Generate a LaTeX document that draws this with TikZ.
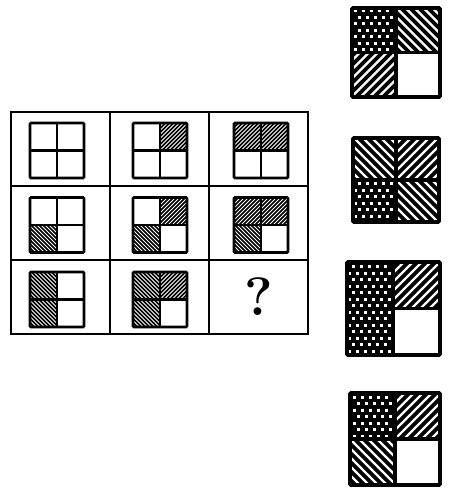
\documentclass[tikz,border=0pt]{standalone}
\usepackage{tikz}
\usetikzlibrary{calc}
\tikzset{cell/.style={draw, line width=1.5pt, minimum width=99pt, minimum height=74pt, inner sep=0pt}}
\tikzset{box/.style={inner sep=0pt, outer sep=0pt}}

% quadrant fillings: corner, centre
\newcommand{\qnofill}[2]{}
\newcommand{\qhne}[2]{\begin{scope}
    \clip (#1) rectangle (#2); \fill (#1) rectangle (#2);
    \foreach \k in {-15,...,15} \draw [white, line width=0.8pt] ($(#2)+(\k*4-40,40)$) -- ++(80,-80);
\end{scope}}
\newcommand{\qhnw}[2]{\begin{scope}
    \clip (#1) rectangle (#2); \fill (#1) rectangle (#2);
    \foreach \k in {-15,...,15} \draw [white, line width=0.8pt] ($(#2)+(\k*4-40,-40)$) -- ++(80,80);
\end{scope}}
\newcommand{\qbne}[2]{\begin{scope}
    \clip (#1) rectangle (#2); \fill (#1) rectangle (#2);
    \foreach \k in {-12,...,12} \draw [white, line width=2.2pt] ($(#2)+(\k*9-60,60)$) -- ++(120,-120);
\end{scope}}
\newcommand{\qbnw}[2]{\begin{scope}
    \clip (#1) rectangle (#2); \fill (#1) rectangle (#2);
    \foreach \k in {-12,...,12} \draw [white, line width=2.2pt] ($(#2)+(\k*9-60,-60)$) -- ++(120,120);
\end{scope}}
\newcommand{\qdots}[2]{\begin{scope}
    \clip (#1) rectangle (#2); \fill (#1) rectangle (#2);
    \foreach \i in {-7,...,7} \foreach \j in {-8,...,8}
        \fill [white] ($(#2)+({\i*8+4*mod(abs(\j),2)+2},{\j*6.5+2})$) rectangle ++(3,3);
\end{scope}}

% name, centre, width, height, frame width, TL, TR, BL, BR
\newcommand{\quads}[9]{%
    \node [box, minimum width=#3, minimum height=#4] (#1) at #2 {};
    \csname q#6\endcsname{#1.north west}{#1.center}
    \csname q#7\endcsname{#1.north east}{#1.center}
    \csname q#8\endcsname{#1.south west}{#1.center}
    \csname q#9\endcsname{#1.south east}{#1.center}
    \draw [line width=#5] (#1.north) -- (#1.south) (#1.west) -- (#1.east);
    \draw [line width=#5, rounded corners=1pt] (#1.north west) rectangle (#1.south east);
}

\begin{document}
\begin{tikzpicture}[x=1pt, y=-1pt]
    \useasboundingbox (0,0) rectangle (459,498);

    % grid
    \node [cell] (c11) at (60.5,149) {};
    \node [cell] (c12) at (159.5,149) {};
    \node [cell] (c13) at (258.5,149) {};
    \node [cell] (c21) at (60.5,223) {};
    \node [cell] (c22) at (159.5,223) {};
    \node [cell] (c23) at (258.5,223) {};
    \node [cell] (c31) at (60.5,297) {};
    \node [cell] (c32) at (159.5,297) {};
    \node [cell] (c33) at (258.5,297) {\fontsize{54}{54}\selectfont\bfseries ?};

    \quads{g11}{(57,150.5)}{54pt}{55pt}{2.6pt}{nofill}{nofill}{nofill}{nofill}
    \quads{g12}{(160,150.5)}{54pt}{55pt}{2.6pt}{nofill}{hne}{nofill}{nofill}
    \quads{g13}{(261,150.5)}{54pt}{55pt}{2.6pt}{hne}{hne}{nofill}{nofill}
    \quads{g21}{(57,225)}{54pt}{55pt}{2.6pt}{nofill}{nofill}{hnw}{nofill}
    \quads{g22}{(160,225)}{54pt}{55pt}{2.6pt}{nofill}{hne}{hnw}{nofill}
    \quads{g23}{(261,225)}{54pt}{55pt}{2.6pt}{hne}{hne}{hnw}{nofill}
    \quads{g31}{(57,299.5)}{54pt}{55pt}{2.6pt}{hnw}{nofill}{hnw}{nofill}
    \quads{g32}{(160,299.5)}{54pt}{55pt}{2.6pt}{hnw}{hne}{hnw}{nofill}

    % answers
    \quads{optA}{(396,52.5)}{88pt}{89pt}{3.6pt}{dots}{bnw}{bne}{nofill}
    \quads{optB}{(396,180)}{86pt}{84pt}{3.6pt}{bnw}{bne}{dots}{bnw}
    \quads{optC}{(393.5,308.5)}{93pt}{93pt}{3.6pt}{dots}{bne}{dots}{nofill}
    \quads{optD}{(395,439)}{90pt}{92pt}{3.6pt}{dots}{bne}{bnw}{nofill}
\end{tikzpicture}
\end{document}
